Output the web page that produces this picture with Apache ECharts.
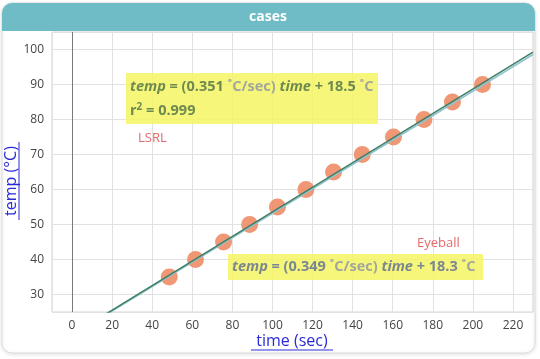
<!DOCTYPE html>
<html><head><meta charset="utf-8">
<script src="https://cdn.jsdelivr.net/npm/echarts@6/dist/echarts.min.js"></script>
<style>html,body{margin:0;padding:0;background:#fff;}#c{width:540px;height:359px;}</style>
</head><body><div id="c"></div>
<script>
const timeSec = [48.5, 61.6, 75.6, 88.6, 102.5, 116.7, 130.5, 144.8, 160.4, 175.6, 189.8, 204.8];
const tempC   = [35, 40, 45, 50, 55, 60, 65, 70, 75, 80, 85, 90];
const lsrl    = {slope: 0.351, intercept: 18.5, r2: 0.999};
const eyeball = {slope: 0.349, intercept: 18.3};
const xRange  = [-10, 230];
const yRange  = [25, 105];
const title   = 'cases';
const xName   = 'time (sec)';
const yName   = 'temp (°C)';

const lineData = (m) => xRange.map(x => [x, m.slope * x + m.intercept]);
const FONT = '"Open Sans", "Noto Sans", sans-serif';
const chart = echarts.init(document.getElementById('c'));

const FS = 14.5;
const eqRich = (col) => ({
  v: {fontFamily: FONT, fontWeight: 'bold', fontStyle: 'italic', fontSize: FS, fill: col},
  n: {fontFamily: FONT, fontWeight: 'bold', fontSize: FS, fill: col},
  u: {fontFamily: FONT, fontWeight: 'bold', fontSize: FS, fill: '#a3a69c'},
  s: {fontFamily: FONT, fontWeight: 'bold', fontSize: 10, fill: col, verticalAlign: 'top', padding: [0,0,7,0]}
});
const eqText = (m) => `{v|temp}{n| = (${m.slope.toFixed(3)} }{u|˚C/sec)}{n| }{v|time}{n| + ${m.intercept.toFixed(1)} }{u|˚C}`;

chart.setOption({
  animation: false,
  grid: {left: 52, right: 7, top: 32, bottom: 47, show: true, borderColor: '#d4d4d4', borderWidth: 1},
  xAxis: {type: 'value', min: xRange[0], max: xRange[1], splitNumber: 12,
    axisLine: {show: false}, axisTick: {show: false},
    axisLabel: {color: '#444', fontSize: 12, fontFamily: FONT, margin: 8,
      formatter: v => (v % 20 === 0 ? String(v) : '')},
    splitLine: {lineStyle: {color: '#e2e2e2'}}},
  yAxis: {type: 'value', min: yRange[0], max: yRange[1], splitNumber: 8,
    axisLine: {show: false}, axisTick: {show: false},
    axisLabel: {color: '#444', fontSize: 12, fontFamily: FONT, margin: 8,
      formatter: v => (v % 10 === 0 ? String(v) : '')},
    splitLine: {lineStyle: {color: '#e2e2e2'}}},
  series: [
    {type: 'line', data: lineData(eyeball), symbol: 'none', clip: true,
      lineStyle: {color: '#8fc3d0', width: 1.5}, z: 3,
      markLine: {silent: true, symbol: 'none', label: {show: false},
        lineStyle: {color: '#7a7a7a', width: 1, type: 'solid'}, data: [{xAxis: 0}]}},
    {type: 'line', data: lineData(lsrl), symbol: 'none', clip: true,
      lineStyle: {color: '#3f7f63', width: 1.5}, z: 4},
    {type: 'scatter', data: timeSec.map((t, i) => [t, tempC[i]]), symbolSize: 17,
      itemStyle: {color: '#ee8c66', opacity: 0.9}, z: 2}
  ],
  graphic: [
    {type: 'rect', z: -10, shape: {x: 2, y: 3, width: 533, height: 350, r: 10},
      style: {fill: '#fff', stroke: '#dcdcdc', lineWidth: 1, shadowBlur: 4, shadowColor: 'rgba(0,0,0,0.12)', shadowOffsetY: 1}},
    {type: 'rect', z: 10, shape: {x: 2, y: 3, width: 533, height: 28, r: [10, 10, 0, 0]},
      style: {fill: '#6fbcc6'}},
    {type: 'text', z: 11, x: 268, y: 17, style: {text: title, fill: '#fff', font: 'bold 14px ' + FONT, align: 'center', verticalAlign: 'middle'}},
    // LSRL box
    {type: 'rect', z: 5, shape: {x: 126, y: 73, width: 252, height: 51}, style: {fill: 'rgba(245,245,100,0.85)'}},
    {type: 'text', z: 6, x: 130, y: 87, style: {text: eqText(lsrl), rich: eqRich('#6e8a4e'), verticalAlign: 'middle'}},
    {type: 'text', z: 6, x: 130, y: 111, style: {
      text: `{n|r}{s|2}{n| = ${lsrl.r2.toFixed(3)}}`, rich: eqRich('#6e8a4e'), verticalAlign: 'middle'}},
    {type: 'text', z: 6, x: 138, y: 138, style: {text: 'LSRL', fill: '#e36a6a', font: '13px ' + FONT, verticalAlign: 'middle'}},
    // Eyeball box
    {type: 'rect', z: 5, shape: {x: 228, y: 254, width: 255, height: 26}, style: {fill: 'rgba(245,245,100,0.85)'}},
    {type: 'text', z: 6, x: 232, y: 267, style: {text: eqText(eyeball), rich: eqRich('#7b8790'), verticalAlign: 'middle'}},
    {type: 'text', z: 6, x: 417, y: 243, style: {text: 'Eyeball', fill: '#e36a6a', font: '13px ' + FONT, verticalAlign: 'middle'}},
    // axis names
    {type: 'text', z: 6, x: 292, y: 341, style: {text: xName, fill: '#2a2ad8', font: '16px ' + FONT, align: 'center', verticalAlign: 'middle'}},
    {type: 'line', z: 6, shape: {x1: 251, y1: 350, x2: 333, y2: 350}, style: {stroke: '#2a2ad8', lineWidth: 1}},
    {type: 'text', z: 6, x: 11, y: 181, rotation: Math.PI / 2, style: {text: yName, fill: '#2a2ad8', font: '16px ' + FONT, align: 'center', verticalAlign: 'middle'}},
    {type: 'line', z: 6, shape: {x1: 19, y1: 142, x2: 19, y2: 220}, style: {stroke: '#2a2ad8', lineWidth: 1}}
  ]
});
</script></body></html>
